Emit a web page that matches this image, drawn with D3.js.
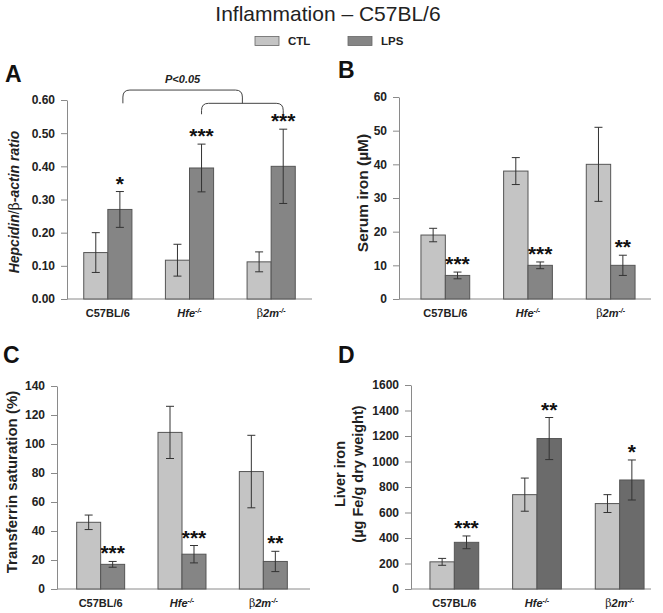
<!DOCTYPE html>
<html>
<head>
<meta charset="utf-8">
<script src="https://cdn.jsdelivr.net/npm/d3@7"></script>
<style>
  body { margin: 0; background: #fff; }
  svg text { font-family: "Liberation Sans", Arial, sans-serif; }
</style>
</head>
<body>
<div id="chart"></div>
<script>
// groups and series
const groups = ["C57BL/6", "Hfe", "b2m"];
const series = ["CTL", "LPS"];

// A - hepcidin / beta-actin ratio
const hepCtl = [0.14, 0.117, 0.112];
const hepCtlErr = [0.06, 0.048, 0.03];
const hepLps = [0.27, 0.395, 0.40];
const hepLpsErr = [0.054, 0.072, 0.112];
const hepStars = ["*", "***", "***"];
const hepTicks = [0, 0.1, 0.2, 0.3, 0.4, 0.5, 0.6];

// B - serum iron
const serCtl = [19, 38, 40];
const serCtlErr = [2, 4, 11];
const serLps = [7, 10, 10];
const serLpsErr = [1, 1, 3];
const serStars = ["***", "***", "**"];
const serTicks = [0, 10, 20, 30, 40, 50, 60];

// C - transferrin saturation
const tfCtl = [46, 108, 81];
const tfCtlErr = [5, 18, 25];
const tfLps = [17, 24, 19];
const tfLpsErr = [2, 6, 7];
const tfStars = ["***", "***", "**"];
const tfTicks = [0, 20, 40, 60, 80, 100, 120, 140];

// D - liver iron
const livCtl = [213, 740, 670];
const livCtlErr = [27, 130, 70];
const livLps = [366, 1180, 855];
const livLpsErr = [50, 165, 157];
const livStars = ["***", "**", "*"];
const livTicks = [0, 200, 400, 600, 800, 1000, 1200, 1400, 1600];

const width = 663, height = 613;
const ctlColor = "#c4c4c4";
const axisColor = "#8a8a8a";

const svg = d3.select("#chart").append("svg")
    .attr("width", width)
    .attr("height", height);

// title
svg.append("text")
    .attr("x", 328).attr("y", 21)
    .attr("text-anchor", "middle")
    .style("font-size", "21px")
    .style("fill", "#222")
    .text("Inflammation \u2013 C57BL/6");

// legend
const legend = svg.append("g");
[["CTL", ctlColor, 255], ["LPS", "#858585", 348]].forEach(function(l) {
  legend.append("rect")
      .attr("x", l[2]).attr("y", 36.5)
      .attr("width", 24).attr("height", 9)
      .attr("fill", l[1])
      .attr("stroke", "#666").attr("stroke-width", 0.8);
  legend.append("text")
      .attr("x", l[2] + 33).attr("y", 45)
      .style("font-size", "11.5px").style("font-weight", "bold")
      .style("fill", "#222")
      .text(l[0]);
});

// writes a category label with italics / superscripts
function categoryLabel(sel, g) {
  sel.text(null);
  if (g === "C57BL/6") {
    sel.append("tspan").text("C57BL/6");
  } else if (g === "Hfe") {
    sel.append("tspan").style("font-style", "italic").text("Hfe");
    sel.append("tspan").attr("dy", -4).style("font-size", "7px").style("font-style", "italic").text("-/-");
  } else {
    sel.append("tspan").style("font-weight", "normal").style("font-family", "'DejaVu Serif', serif").text("\u03b2");
    sel.append("tspan").style("font-style", "italic").text("2m");
    sel.append("tspan").attr("dy", -4).style("font-size", "7px").style("font-style", "italic").text("-/-");
  }
}

// draws one bar panel
function drawPanel(p) {
  const g = svg.append("g");

  const x = d3.scaleBand()
      .domain(groups)
      .range(p.xRange)
      .paddingInner(0.41)
      .paddingOuter(0.205);

  const xs = d3.scaleBand()
      .domain(series)
      .range([0, x.bandwidth()]);

  const y = d3.scaleLinear()
      .domain([0, p.ticks[p.ticks.length - 1]])
      .range(p.yRange);

  // y axis
  const yAxis = g.append("g")
      .attr("transform", "translate(" + p.axisX + ",0)")
      .call(d3.axisLeft(y).tickValues(p.ticks).tickSize(6).tickPadding(6)
            .tickFormat(p.fmt).tickSizeOuter(0));
  yAxis.select(".domain").attr("stroke", axisColor);
  yAxis.selectAll(".tick line").attr("stroke", axisColor);
  yAxis.selectAll(".tick text")
      .style("font-size", "12px").style("font-weight", "bold")
      .style("font-family", "'Liberation Sans', Arial, sans-serif")
      .attr("fill", "#222");

  // x axis line
  g.append("line")
      .attr("x1", p.axisX).attr("x2", p.axisEnd)
      .attr("y1", y(0)).attr("y2", y(0))
      .attr("stroke", axisColor).attr("stroke-width", 1);

  // category labels
  g.selectAll("text.cat")
      .data(groups)
      .enter().append("text")
      .attr("class", "cat")
      .attr("x", d => x(d) + x.bandwidth() / 2)
      .attr("y", y(0) + 18)
      .attr("text-anchor", "middle")
      .style("font-size", "11px").style("font-weight", "bold")
      .attr("fill", "#222")
      .each(function(d) { categoryLabel(d3.select(this), d); });

  const rows = [];
  groups.forEach(function(gr, i) {
    rows.push({ g: gr, s: "CTL", v: p.ctl[i], e: p.ctlErr[i], star: "" });
    rows.push({ g: gr, s: "LPS", v: p.lps[i], e: p.lpsErr[i], star: p.stars[i] });
  });

  g.selectAll("rect.bar")
      .data(rows)
      .enter().append("rect")
      .attr("class", "bar")
      .attr("x", d => x(d.g) + xs(d.s))
      .attr("y", d => y(d.v))
      .attr("width", xs.bandwidth())
      .attr("height", d => y(0) - y(d.v))
      .attr("fill", d => d.s === "CTL" ? ctlColor : p.lpsColor)
      .attr("stroke", "#555")
      .attr("stroke-width", 1);

  // error bars
  const eb = g.selectAll("g.err")
      .data(rows)
      .enter().append("g")
      .attr("class", "err")
      .attr("transform", d => "translate(" + (x(d.g) + xs(d.s) + xs.bandwidth() / 2) + ",0)");
  eb.append("line")
      .attr("y1", d => y(d.v - d.e)).attr("y2", d => y(d.v + d.e))
      .attr("stroke", "#333").attr("stroke-width", 1);
  eb.append("line")
      .attr("x1", -4).attr("x2", 4)
      .attr("y1", d => y(d.v + d.e)).attr("y2", d => y(d.v + d.e))
      .attr("stroke", "#333").attr("stroke-width", 1);
  eb.append("line")
      .attr("x1", -4).attr("x2", 4)
      .attr("y1", d => y(d.v - d.e)).attr("y2", d => y(d.v - d.e))
      .attr("stroke", "#333").attr("stroke-width", 1);

  // significance stars
  eb.append("text")
      .attr("y", d => y(d.v + d.e) - 1)
      .attr("text-anchor", "middle")
      .style("font-size", "21px").style("font-weight", "bold")
      .attr("fill", "#111")
      .text(d => d.star);

  // panel letter
  svg.append("text")
      .attr("x", p.letterPos[0]).attr("y", p.letterPos[1])
      .style("font-size", "23px").style("font-weight", "bold")
      .attr("fill", "#111")
      .text(p.letter);

  // y label
  const lab = svg.append("text")
      .attr("transform", "translate(" + p.labelPos[0] + "," + p.labelPos[1] + ") rotate(-90)")
      .attr("text-anchor", "middle")
      .style("font-size", p.labelSize || "14px").style("font-weight", "bold")
      .attr("fill", "#222");
  p.label(lab);

  return { x: x, xs: xs, y: y };
}

const a = drawPanel({
  letter: "A", letterPos: [5, 82],
  ctl: hepCtl, ctlErr: hepCtlErr, lps: hepLps, lpsErr: hepLpsErr, stars: hepStars,
  ticks: hepTicks, fmt: d3.format(".2f"),
  axisX: 67, axisEnd: 312, xRange: [67, 312], yRange: [299, 100],
  lpsColor: "#858585",
  labelPos: [19, 202],
  label: function(t) {
    t.append("tspan").style("font-style", "italic").text("Hepcidin");
    t.append("tspan").style("font-weight", "normal").text("/");
    t.append("tspan").style("font-weight", "normal").style("font-family", "'DejaVu Serif', serif").text("\u03b2");
    t.append("tspan").style("font-style", "italic").text("-actin ratio");
  }
});

drawPanel({
  letter: "B", letterPos: [338, 78],
  ctl: serCtl, ctlErr: serCtlErr, lps: serLps, lpsErr: serLpsErr, stars: serStars,
  ticks: serTicks, fmt: d3.format("d"),
  axisX: 399, axisEnd: 651, xRange: [404, 652], yRange: [299, 97],
  lpsColor: "#858585",
  labelPos: [368, 193], labelSize: "15.5px",
  label: function(t) { t.text("Serum iron (\u00b5M)"); }
});

drawPanel({
  letter: "C", letterPos: [3, 363],
  ctl: tfCtl, ctlErr: tfCtlErr, lps: tfLps, lpsErr: tfLpsErr, stars: tfStars,
  ticks: tfTicks, fmt: d3.format("d"),
  axisX: 57, axisEnd: 310, xRange: [60, 304], yRange: [589, 386],
  lpsColor: "#858585",
  labelPos: [17, 482], labelSize: "15px",
  label: function(t) { t.text("Transferrin saturation (%)"); }
});

drawPanel({
  letter: "D", letterPos: [338, 363],
  ctl: livCtl, ctlErr: livCtlErr, lps: livLps, lpsErr: livLpsErr, stars: livStars,
  ticks: livTicks, fmt: d3.format("d"),
  axisX: 411, axisEnd: 651, xRange: [413, 661], yRange: [589, 385],
  lpsColor: "#6b6b6b",
  labelPos: [345, 474], labelSize: "14.5px",
  label: function(t) {
    t.append("tspan").attr("x", 0).attr("dy", 0).text("Liver iron");
    t.append("tspan").attr("x", 0).attr("dy", 18).text("(\u00b5g Fe/g dry weight)");
  }
});

// significance brackets in panel A
const lpsX = i => a.x(groups[i]) + a.xs("LPS") + a.xs.bandwidth() / 2;
const r = 7;
function bracket(x1, x2, yTop, yEnd) {
  const p = d3.path();
  p.moveTo(x1, yEnd);
  p.lineTo(x1, yTop + r);
  p.quadraticCurveTo(x1, yTop, x1 + r, yTop);
  p.lineTo(x2 - r, yTop);
  p.quadraticCurveTo(x2, yTop, x2, yTop + r);
  p.lineTo(x2, yEnd);
  return p.toString();
}
const b2Left = lpsX(1), b2Right = lpsX(2);
const b2Mid = (b2Left + b2Right) / 2;
svg.append("path")
    .attr("d", bracket(b2Left, b2Right, a.y(0.59), a.y(0.557)))
    .attr("fill", "none").attr("stroke", "#444").attr("stroke-width", 1);
svg.append("path")
    .attr("d", bracket(lpsX(0) + 3, b2Mid, a.y(0.63), a.y(0.59)))
    .attr("fill", "none").attr("stroke", "#444").attr("stroke-width", 1);
svg.append("text")
    .attr("x", (lpsX(0) + 3 + b2Mid) / 2)
    .attr("y", a.y(0.65))
    .attr("text-anchor", "middle")
    .style("font-size", "11px").style("font-weight", "bold").style("font-style", "italic")
    .attr("fill", "#222")
    .text("P<0.05");
</script>
</body>
</html>
